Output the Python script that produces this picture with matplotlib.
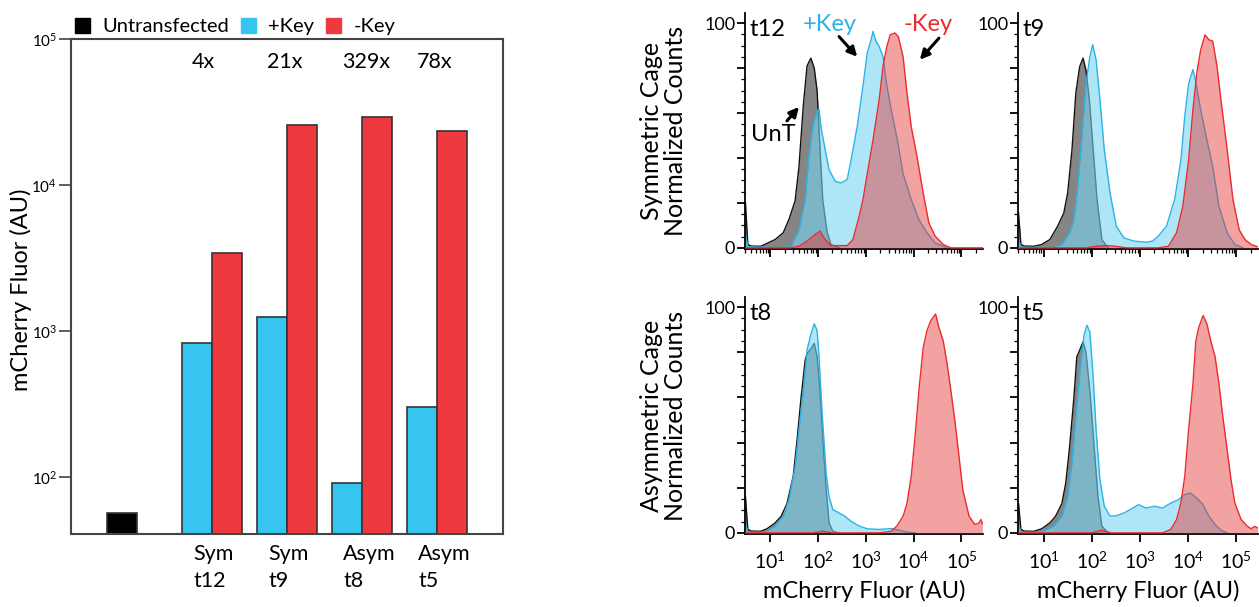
import numpy as np
import matplotlib
matplotlib.use("Agg")
import matplotlib.pyplot as plt
from matplotlib.patches import Patch
from matplotlib.ticker import LogLocator, NullFormatter, FixedLocator, MultipleLocator

plt.rcParams['font.family'] = ['Lato', 'DejaVu Sans']
plt.rcParams['mathtext.fontset'] = 'custom'
plt.rcParams['mathtext.rm'] = 'Lato'
plt.rcParams['mathtext.it'] = 'Lato'

# ---- bar chart data (mean mCherry, AU) ----
untransfected = 56
groups = ['Sym\nt12', 'Sym\nt9', 'Asym\nt8', 'Asym\nt5']
plus_key = [830, 1250, 90, 302]
minus_key = [3435, 25900, 29400, 23600]
folds = ['4x', '21x', '329x', '78x']

# ---- histogram data: log10(fluor) positions and normalized counts ----
t12_unt_x = [0.48, 0.53, 0.6, 0.8, 0.93, 1.10, 1.27, 1.39, 1.52, 1.60, 1.69, 1.77, 1.85, 1.92, 1.98, 2.06, 2.10, 2.19, 2.27, 2.45]
t12_unt_y = [20, 1.5, 0.8, 0.7, 2, 3.7, 6.7, 12.6, 21, 36, 63, 81, 84.4, 80, 70, 36, 21, 7, 1.5, 0]
t12_plus_x = [0.48, 0.53, 0.8, 1.27, 1.44, 1.60, 1.73, 1.81, 1.89, 1.98, 2.02, 2.07, 2.15, 2.23, 2.36, 2.48, 2.61, 2.69, 2.82, 2.94, 3.03, 3.11, 3.15, 3.21, 3.28, 3.36, 3.44, 3.53, 3.66, 3.78, 3.95, 4.11, 4.28, 4.45, 4.70]
t12_plus_y = [6, 0.5, 0.3, 0, 0.7, 8, 21, 41, 54, 61, 61.5, 52.6, 43.7, 34.8, 29.6, 28.9, 30.4, 39, 54, 72, 86.7, 92.6, 96.3, 92, 89.6, 85, 72, 61.5, 48, 33, 21.5, 12.6, 6.7, 2.2, 0]
t12_minus_x = [0.48, 1.4, 1.60, 1.77, 1.94, 2.04, 2.15, 2.27, 2.61, 2.73, 2.86, 2.94, 3.03, 3.15, 3.28, 3.36, 3.44, 3.51, 3.61, 3.68, 3.78, 3.86, 3.95, 4.07, 4.20, 4.32, 4.45, 4.62, 4.78, 5.44]
t12_minus_y = [0, 0, 0.7, 3, 6, 7.4, 3.7, 1, 1, 3.7, 14, 21.5, 33, 48, 66, 81, 89.6, 94.8, 95.6, 94, 85, 69, 54, 40.7, 24.4, 11, 5.2, 1.5, 0, 0]

t9_unt_x = [0.48, 0.53, 0.6, 0.8, 0.96, 1.13, 1.29, 1.42, 1.50, 1.59, 1.67, 1.75, 1.82, 1.88, 1.95, 2.03, 2.11, 2.21, 2.34]
t9_unt_y = [15.5, 1.5, 0.8, 0.7, 1.5, 3.7, 9.6, 15.5, 24.4, 43.7, 69, 80.7, 84.4, 79, 66, 43.7, 21.5, 3.7, 0]
t9_plus_x = [0.48, 0.53, 0.9, 1.21, 1.38, 1.54, 1.63, 1.71, 1.79, 1.88, 1.96, 2.02, 2.09, 2.17, 2.26, 2.38, 2.51, 2.67, 2.88, 3.13, 3.26, 3.38, 3.55, 3.72, 3.85, 3.93, 4.01, 4.10, 4.15, 4.26, 4.39, 4.51, 4.64, 4.81, 4.97, 5.14]
t9_plus_y = [3.7, 0.3, 0.2, 0, 1.5, 6.7, 12.6, 27, 48, 73, 85, 90.4, 83.7, 66, 43.7, 24.4, 9.6, 4.4, 3, 2.5, 3, 5.2, 9.6, 21.5, 39, 58.5, 73, 79.3, 74.8, 61.5, 48, 36.3, 18.5, 6.7, 1.5, 0]
t9_minus_x = [0.48, 1.88, 2.10, 2.30, 2.50, 2.72, 3.38, 3.59, 3.76, 3.89, 4.01, 4.10, 4.18, 4.26, 4.35, 4.43, 4.51, 4.60, 4.68, 4.81, 4.93, 5.06, 5.18, 5.31, 5.44]
t9_minus_y = [0, 0, 0.7, 1, 0.7, 0, 0, 0.7, 6.7, 18.5, 39, 61.5, 77.8, 88, 94.8, 92.6, 92, 80.7, 66, 43.7, 21.5, 8, 3.7, 1.5, 0.5]

t8_unt_x = [0.48, 0.53, 0.6, 0.8, 0.93, 1.10, 1.23, 1.35, 1.48, 1.56, 1.64, 1.73, 1.77, 1.85, 1.92, 1.98, 2.04, 2.10, 2.17, 2.23, 2.31, 2.44]
t8_unt_y = [16, 1.5, 0.8, 0.7, 1.8, 4.4, 7.4, 13, 25, 41, 59, 76.5, 79.4, 81.6, 84, 78, 63, 41, 19, 4.4, 0.7, 0]
t8_plus_x = [0.48, 0.53, 0.9, 1.10, 1.27, 1.39, 1.52, 1.60, 1.69, 1.77, 1.85, 1.92, 1.98, 2.02, 2.09, 2.17, 2.23, 2.31, 2.44, 2.56, 2.69, 2.86, 3.03, 3.28, 3.53, 3.69, 3.86, 4.03]
t8_plus_y = [4.4, 0.3, 0.3, 3, 7.4, 14.7, 29.4, 45.6, 63, 81, 88, 92.6, 89.7, 78, 51.5, 26.5, 16, 10.3, 8.8, 7.4, 5.1, 3, 1.8, 1.5, 1.9, 1.2, 0.3, 0]
t8_minus_x = [0.48, 1.9, 2.1, 2.3, 3.28, 3.53, 3.65, 3.78, 3.86, 3.95, 4.03, 4.11, 4.20, 4.28, 4.36, 4.46, 4.53, 4.62, 4.70, 4.78, 4.87, 4.95, 5.03, 5.16, 5.28, 5.37, 5.41, 5.44]
t8_minus_y = [0, 0, 0.7, 0, 0, 0.7, 3, 7.4, 13, 25, 42.6, 63, 82, 89.7, 94, 97, 91, 85, 75, 63, 48.5, 33.8, 19, 7.4, 3.7, 4.4, 5.9, 4]

t5_unt_x = [0.48, 0.53, 0.6, 0.8, 0.96, 1.13, 1.25, 1.38, 1.46, 1.54, 1.63, 1.69, 1.75, 1.82, 1.88, 1.96, 2.05, 2.13, 2.21, 2.34]
t5_unt_y = [13, 1.5, 0.8, 0.7, 1.8, 4.4, 7.4, 13, 22, 38, 60, 78, 81, 84.6, 80, 63, 38, 16, 3, 0]
t5_plus_x = [0.48, 0.53, 0.9, 1.04, 1.21, 1.38, 1.50, 1.59, 1.67, 1.75, 1.84, 1.90, 1.96, 2.03, 2.09, 2.17, 2.26, 2.38, 2.51, 2.67, 2.80, 2.97, 3.13, 3.30, 3.47, 3.64, 3.80, 3.93, 4.05, 4.18, 4.31, 4.43, 4.56, 4.68, 4.81]
t5_plus_y = [4, 0.3, 0.3, 1.2, 3, 7.4, 16, 31, 51.5, 70.6, 87.5, 92, 89, 69, 45.6, 23.5, 11.8, 7.4, 7.6, 8.8, 10.3, 12.5, 11, 11.8, 11, 13.2, 14.7, 17, 17.6, 15.4, 12.5, 7.4, 3.7, 1.2, 0]
t5_minus_x = [0.48, 2.0, 2.21, 2.4, 3.47, 3.64, 3.76, 3.85, 3.93, 4.01, 4.10, 4.16, 4.22, 4.31, 4.39, 4.47, 4.56, 4.64, 4.72, 4.81, 4.89, 4.97, 5.10, 5.23, 5.31, 5.38, 5.44]
t5_minus_y = [0, 0, 1.2, 0, 0, 1.5, 5.9, 13.2, 25, 45.6, 66, 85, 91, 96.3, 92.6, 85, 78, 66, 51.5, 36.8, 23.5, 13.2, 5.9, 2.9, 1.8, 2.9, 2.2]

panels = ['t12', 't9', 't8', 't5']
unt_x = [t12_unt_x, t9_unt_x, t8_unt_x, t5_unt_x]
unt_y = [t12_unt_y, t9_unt_y, t8_unt_y, t5_unt_y]
plus_x = [t12_plus_x, t9_plus_x, t8_plus_x, t5_plus_x]
plus_y = [t12_plus_y, t9_plus_y, t8_plus_y, t5_plus_y]
minus_x = [t12_minus_x, t9_minus_x, t8_minus_x, t5_minus_x]
minus_y = [t12_minus_y, t9_minus_y, t8_minus_y, t5_minus_y]

CYAN = '#35c5f0'
RED = '#ee3a3e'
CYAN_FILL = '#78d5f3'
RED_FILL = '#e63232'
CYAN_LINE = '#2ab4e6'
RED_LINE = '#ec2b30'
EDGE = '#333333'

fig = plt.figure(figsize=(12.59, 6.07), dpi=100)

# ---------------- bar chart ----------------
ax = fig.add_axes([0.0564, 0.1203, 0.3431, 0.8147])
ax.set_yscale('log')
ax.set_ylim(41, 1e5)
ax.set_xlim(0, 14.4)

ax.bar(1.7, untransfected, width=1.03, bottom=1, color='black', edgecolor=EDGE, linewidth=1.2)
for i in range(len(groups)):
    left = 3.7 + 2.5 * i
    ax.bar(left + 0.5, plus_key[i], width=1.0, bottom=1, color=CYAN, edgecolor=EDGE, linewidth=1.2)
    ax.bar(left + 1.5, minus_key[i], width=1.0, bottom=1, color=RED, edgecolor=EDGE, linewidth=1.2)
    ax.text(left + 0.37, -0.02, groups[i], transform=ax.get_xaxis_transform(),
            ha='left', va='top', fontsize=15.5, linespacing=1.45)
    ax.text(left + 0.33, 0.955, folds[i], transform=ax.get_xaxis_transform(),
            ha='left', va='center', fontsize=15.5)

for s in ax.spines.values():
    s.set_linewidth(1.5)
    s.set_color('#444444')
ax.set_xticks([])
ax.yaxis.set_major_locator(FixedLocator([1e2, 1e3, 1e4, 1e5]))
ax.yaxis.set_minor_locator(FixedLocator([]))
ax.set_yticklabels([r'$10^2$', r'$10^3$', r'$10^4$', r'$10^5$'])
ax.tick_params(axis='y', length=9, width=1.2, labelsize=11, pad=1, color='#444444')
fig.text(21 / 1259, 1 - 290 / 607, 'mCherry Fluor (AU)', rotation=90,
         ha='center', va='center', fontsize=17)

handles = [Patch(facecolor='black', edgecolor='black'),
           Patch(facecolor=CYAN, edgecolor=CYAN),
           Patch(facecolor=RED, edgecolor=RED)]
ax.legend(handles, ['Untransfected', '+Key', '-Key'], loc='lower left',
          bbox_to_anchor=(0.0, 1.0), ncol=3, frameon=False, fontsize=14.5,
          handlelength=0.75, handleheight=0.75, handletextpad=0.6,
          columnspacing=0.6, borderpad=0.1, borderaxespad=0.1)

# ---------------- histograms ----------------
boxes = [[0.5917, 0.5898, 0.1890, 0.3888],
         [0.8086, 0.5898, 0.1906, 0.3888],
         [0.5917, 0.1203, 0.1890, 0.3904],
         [0.8086, 0.1203, 0.1906, 0.3904]]
hax = []
for k in range(4):
    h = fig.add_axes(boxes[k])
    hax.append(h)
    h.set_xscale('log')
    h.set_xlim(10 ** 0.47, 10 ** 5.45)
    h.set_ylim(-0.5, 104.5)

    ux = 10 ** np.array(unt_x[k])
    px = 10 ** np.array(plus_x[k])
    mx = 10 ** np.array(minus_x[k])
    h.fill_between(ux, unt_y[k], 0, color='#858585', linewidth=0, zorder=1)
    h.plot(ux, unt_y[k], color='#111111', lw=1.0, zorder=1.5)
    h.fill_between(px, plus_y[k], 0, color=CYAN_FILL, alpha=0.6, linewidth=0, zorder=2)
    h.plot(px, plus_y[k], color=CYAN_LINE, lw=1.0, zorder=2.5)
    h.fill_between(mx, minus_y[k], 0, color=RED_FILL, alpha=0.45, linewidth=0, zorder=3)
    h.plot(mx, minus_y[k], color=RED_LINE, lw=1.0, zorder=3.5)

    h.text(0.02, 0.975, panels[k], transform=h.transAxes, ha='left', va='top', fontsize=17)

    h.spines['top'].set_visible(False)
    h.spines['right'].set_visible(False)
    h.spines['left'].set_linewidth(1.3)
    h.spines['bottom'].set_linewidth(1.3)

    h.xaxis.set_major_locator(FixedLocator([1e1, 1e2, 1e3, 1e4, 1e5]))
    h.xaxis.set_minor_locator(LogLocator(base=10, subs=np.arange(2, 10)))
    h.xaxis.set_minor_formatter(NullFormatter())
    h.yaxis.set_major_locator(FixedLocator([0, 20, 40, 60, 80, 100]))
    h.yaxis.set_minor_locator(MultipleLocator(5))
    h.tick_params(axis='both', which='major', length=6, width=1.3)
    h.tick_params(axis='both', which='minor', length=3, width=0.9)
    h.tick_params(axis='y', labelsize=13, pad=1)
    h.set_yticklabels(['0', '', '', '', '', '100'])
    if k >= 2:
        h.set_xticklabels([r'$10^1$', r'$10^2$', r'$10^3$', r'$10^4$', r'$10^5$'])
        h.tick_params(axis='x', labelsize=14, pad=6)
        h.set_xlabel('mCherry Fluor (AU)', fontsize=17, labelpad=6)
    else:
        h.set_xticklabels([])

hax[0].set_ylabel('Symmetric Cage\nNormalized Counts', fontsize=18, labelpad=12, linespacing=1.1)
hax[2].set_ylabel('Asymmetric Cage\nNormalized Counts', fontsize=18, labelpad=12, linespacing=1.1)

# annotations on the t12 panel
a = hax[0]
a.text(10 ** 1.69, 99.5, '+Key', color=CYAN_LINE, fontsize=17, ha='left', va='center')
a.text(10 ** 3.78, 99.5, '-Key', color=RED_LINE, fontsize=17, ha='left', va='center')
a.text(10 ** 0.6, 50.4, 'UnT', color='black', fontsize=17, ha='left', va='center')
arrow = dict(arrowstyle='-|>', color='black', lw=2.2, mutation_scale=14, shrinkA=0, shrinkB=0)
a.annotate('', xy=(10 ** 2.82, 85), xytext=(10 ** 2.44, 94), arrowprops=arrow, zorder=5)
a.annotate('', xy=(10 ** 4.13, 83.7), xytext=(10 ** 4.53, 93.3), arrowprops=arrow, zorder=5)
a.annotate('', xy=(10 ** 1.60, 62.7), xytext=(10 ** 1.35, 56.5), arrowprops=arrow, zorder=5)

fig.savefig('out.png', dpi=100)
